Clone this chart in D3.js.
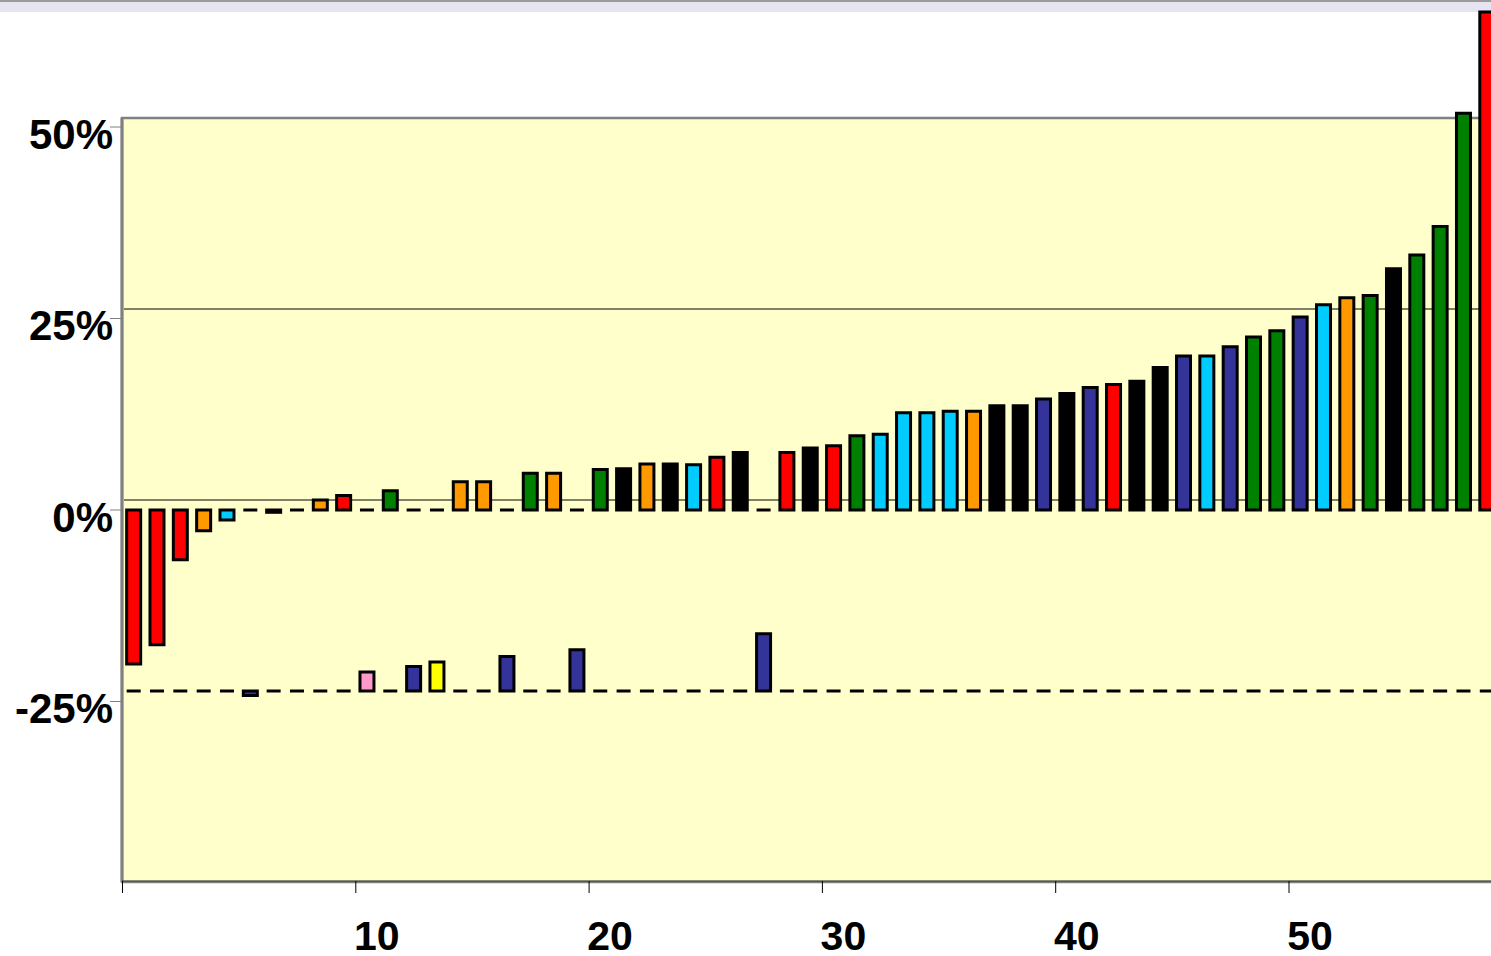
<!DOCTYPE html>
<meta charset="utf-8">
<html>
<head>
    <style>
        body { margin: 0; background: #ffffff; }
        svg text {
            font-family: "Liberation Sans", Arial, sans-serif;
            font-weight: bold;
            fill: black;
        }
    </style>
    <script src="https://d3js.org/d3.v7.min.js"></script>
</head>
<body>
    <div id="chart-container"></div>
    <script>

        // main series, one value per position (percent)
        var mainValues = [-20.1, -17.6, -6.5, -2.7, -1.3, 0, -0.3, 0, 1.3, 1.9,
            0, 2.5, 0, 0, 3.7, 3.7, 0, 4.8, 4.8, 0,
            5.3, 5.4, 6.0, 6.0, 5.9, 6.9, 7.5, 0, 7.5, 8.1,
            8.4, 9.7, 9.9, 12.7, 12.7, 12.9, 12.9, 13.6, 13.6, 14.5,
            15.2, 16.0, 16.4, 16.8, 18.6, 20.1, 20.1, 21.3, 22.6, 23.4,
            25.2, 26.8, 27.7, 28.0, 31.5, 33.3, 37.0, 51.8, 65.0];
        var mainColors = ["red", "red", "red", "orange", "cyan", "black", "black", "black", "orange", "red",
            "black", "green", "black", "black", "orange", "orange", "black", "green", "orange", "black",
            "green", "black", "orange", "black", "cyan", "red", "black", "black", "red", "black",
            "red", "green", "cyan", "cyan", "cyan", "cyan", "orange", "black", "black", "navy",
            "black", "navy", "red", "black", "black", "navy", "cyan", "navy", "green", "green",
            "navy", "cyan", "orange", "green", "black", "green", "green", "green", "red"];

        // lower series, drawn from the -25% line
        var lowerBase = -25;
        var lowerValues = [0, 0, 0, 0, 0, -0.6, 0, 0, 0, 0,
            2.5, 0, 3.2, 3.8, 0, 0, 4.5, 0, 0, 5.4,
            0, 0, 0, 0, 0, 0, 0, 7.5, 0, 0,
            0, 0, 0, 0, 0, 0, 0, 0, 0, 0,
            0, 0, 0, 0, 0, 0, 0, 0, 0, 0,
            0, 0, 0, 0, 0, 0, 0, 0, 0];
        var lowerColors = {6: "navy", 11: "pink", 13: "navy", 14: "yellow", 17: "navy", 20: "navy", 28: "navy"};

        var yTicks = [50, 25, 0, -25];
        var yTickLabels = ["50%", "25%", "0%", "-25%"];
        var xTicks = [0, 10, 20, 30, 40, 50];
        var gridValues = [25, 0];

        var palette = {
            red: "#ff0000", orange: "#ff9900", cyan: "#00ccff", green: "#008000",
            black: "#000000", navy: "#333399", pink: "#ff99cc", yellow: "#ffff00"
        };

        var width = 1491, height = 956;

        var svg = d3.select("#chart-container")
            .append("svg")
            .attr("width", width)
            .attr("height", height);

        // scales
        var x = d3.scaleLinear().domain([0, 60]).range([122, 122 + 60 * 23.33]);
        var y = d3.scaleLinear().domain([-50, 50]).range([893, 127]);
        // plot frame layer sits a little higher than the bars
        var yFrame = d3.scaleLinear().domain([-50, 50]).range([882, 118]);

        var step = x(1) - x(0);
        var barW = step * 0.6;

        // top band
        svg.append("rect").attr("x", 0).attr("y", 2).attr("width", width).attr("height", 10)
            .attr("fill", "#e5e4f0");
        svg.append("rect").attr("x", 0).attr("y", 0).attr("width", width).attr("height", 2)
            .attr("fill", "#9a9a9a");

        // plot area
        svg.append("rect")
            .attr("x", x(0))
            .attr("y", yFrame(50))
            .attr("width", width - x(0) + 5)
            .attr("height", yFrame(-50) - yFrame(50))
            .attr("fill", "#ffffcc")
            .attr("stroke", "#808080")
            .attr("stroke-width", 2.5);

        // gridlines
        svg.append("g")
            .selectAll("line")
            .data(gridValues)
            .enter().append("line")
            .attr("x1", x(0) + 2)
            .attr("x2", width)
            .attr("y1", d => yFrame(d))
            .attr("y2", d => yFrame(d))
            .attr("stroke", "black")
            .attr("stroke-width", 1);

        function barPath(i, y0, y1) {
            var x0 = x(i + 0.5) - barW / 2;
            return "M" + x0 + "," + y0 + "H" + (x0 + barW) + "V" + y1 + "H" + x0 + "Z";
        }

        // lower series
        svg.append("g")
            .selectAll("path")
            .data(lowerValues)
            .enter().append("path")
            .attr("d", (d, i) => barPath(i, yFrame(lowerBase), yFrame(lowerBase + d)))
            .attr("fill", (d, i) => palette[lowerColors[i + 1] || "black"])
            .attr("stroke", "black")
            .attr("stroke-width", 3);

        // main series
        svg.append("g")
            .selectAll("path")
            .data(mainValues)
            .enter().append("path")
            .attr("d", (d, i) => barPath(i, y(0), y(d)))
            .attr("fill", (d, i) => palette[mainColors[i]])
            .attr("stroke", "black")
            .attr("stroke-width", 3);

        // y axis
        svg.append("line")
            .attr("x1", x(0)).attr("x2", x(0))
            .attr("y1", yFrame(50)).attr("y2", yFrame(-50))
            .attr("stroke", "#808080").attr("stroke-width", 3);

        var yAxis = svg.append("g").selectAll("g")
            .data(yTicks)
            .enter().append("g")
            .attr("transform", d => "translate(0," + y(d) + ")");
        yAxis.append("line")
            .attr("x1", 110).attr("x2", x(0))
            .attr("stroke", "#808080").attr("stroke-width", 1);
        yAxis.append("text")
            .attr("x", 113)
            .attr("dy", "0.52em")
            .style("text-anchor", "end")
            .style("font-size", "42px")
            .text((d, i) => yTickLabels[i]);

        // x axis
        svg.append("line")
            .attr("x1", x(0)).attr("x2", width)
            .attr("y1", yFrame(-50) - 1).attr("y2", yFrame(-50) - 1)
            .attr("stroke", "#333").attr("stroke-width", 1);

        var xAxis = svg.append("g")
            .attr("transform", "translate(0," + (yFrame(-50) - 1) + ")")
            .call(d3.axisBottom(x).tickValues(xTicks).tickSize(12).tickFormat(d => d === 0 ? "" : d));
        xAxis.select(".domain").remove();
        xAxis.selectAll(".tick line").attr("stroke", "black");
        xAxis.selectAll(".tick text")
            .attr("y", 69)
            .attr("dy", 0)
            .attr("dx", 21)
            .style("font-size", "41px")
            .style("font-family", "'Liberation Sans', Arial, sans-serif")
            .attr("fill", "black");

    </script>
</body>
</html>
